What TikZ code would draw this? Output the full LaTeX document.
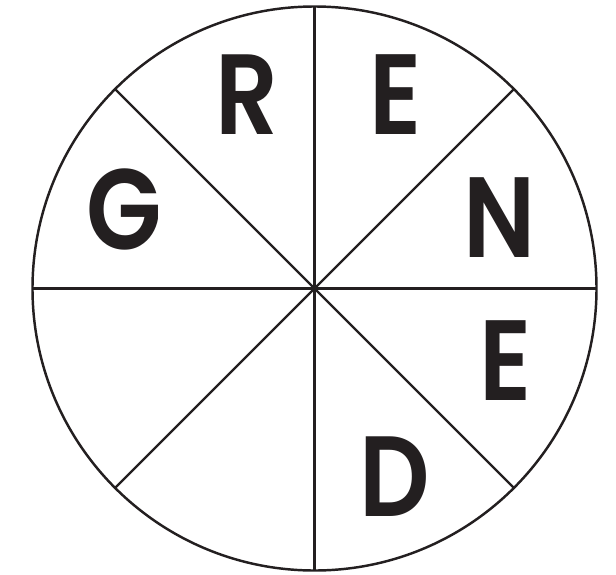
\documentclass[tikz,border=0pt]{standalone}
\usepackage{fontspec}
\usepackage{xcolor}
\usetikzlibrary{positioning, calc}
\newfontfamily\letterfont{Poppins SemiBold}[FakeStretch=0.86]
\definecolor{inkblack}{RGB}{35,31,32}

\begin{document}
\begin{tikzpicture}[
  x=0.02cm, y=-0.02cm,
  every node/.style={align=center},
  rim/.style={draw=inkblack, line width=1.4pt},
  spoke/.style={draw=inkblack, line width=1.4pt},
  letter/.style={text=inkblack, inner sep=0pt, font=\letterfont\fontsize{65}{65}\selectfont},
]
\useasboundingbox (0,0) rectangle (616,575);

%% Wheel centre and radius
\def\R{282}
\coordinate (hub) at (314.5,288.5);

%% Spokes every 45 degrees
\foreach \a in {0,45,...,315}{
  \draw[spoke] (hub) -- ++(\a:\R);
}
\draw[rim] (hub) circle[radius=\R];

%% Letters in the sectors
\node[letter] (lR)  at (247,95)  {R};
\node[letter] (lE1) at (396,95)  {E};
\node[letter] (lN)  at (500,218) {N};
\node[letter] (lE2) at (506,361) {E};
\node[letter] (lD)  at (395,477) {D};
\node[letter] (lG)  at (124,209) {G};

\end{tikzpicture}
\end{document}
